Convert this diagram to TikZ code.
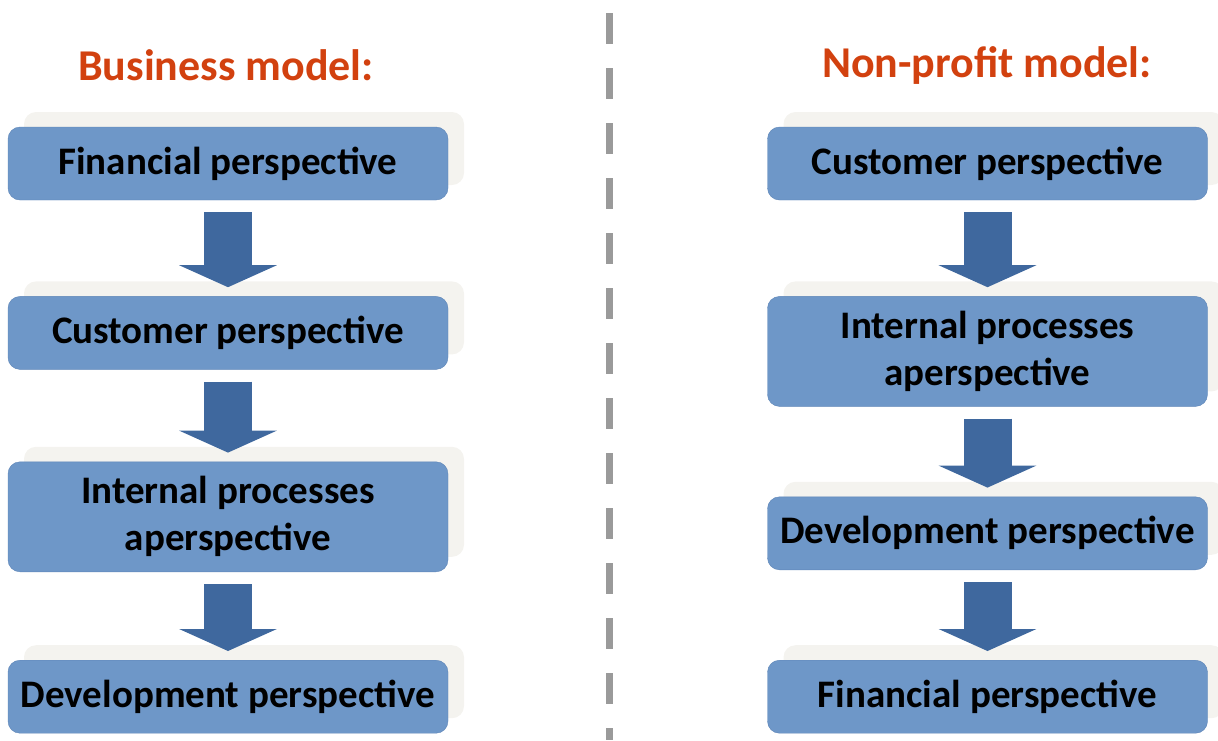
\documentclass[tikz,border=0pt]{standalone}
\usepackage{fontspec}
\setmainfont{Carlito}
\usetikzlibrary{arrows.meta}
\usetikzlibrary{positioning}
\usetikzlibrary{shadows}
\definecolor{boxblue}{HTML}{6E97C8}
\definecolor{boxedge}{HTML}{5D85B7}
\definecolor{arrowblue}{HTML}{3F689E}
\definecolor{titlered}{HTML}{D2410F}
\definecolor{dashgray}{HTML}{9A9A9A}
\definecolor{shadegray}{HTML}{F4F3EF}

\begin{document}
\begin{tikzpicture}[x=1pt,y=-1pt,
	persp/.style={rectangle, rounded corners=12pt, fill=boxblue, draw=boxedge,
		minimum width=440pt, minimum height=73pt, align=center,
		font=\fontsize{39}{47}\selectfont\bfseries,
		general shadow={fill=shadegray, shadow xshift=16pt, shadow yshift=15pt}},
	tall/.style={minimum height=110pt},
	modeltitle/.style={text=titlered, font=\fontsize{44}{52}\selectfont\bfseries},
	bigarrow/.style={draw=arrowblue, line width=48pt,
		-{Triangle[length=22pt,width=97pt]}, shorten <=12pt, shorten >=9pt}]

	\useasboundingbox (0,0) rectangle (1218,740);

	% titles
	\node[modeltitle] (btitle) at (226,65) {Business model:};
	\node[modeltitle] (ntitle) at (987,65) {Non-profit model:};

	% business model column
	\node[persp] (bfin) at (228,163.5) {Financial perspective};
	\node[persp, below = 96pt of bfin] (bcus) {Customer perspective};
	\node[persp, tall, below = 92pt of bcus] (bint) {Internal processes\\aperspective};
	\node[persp, below = 88pt of bint] (bdev) {Development perspective};

	% non-profit column
	\node[persp] (ncus) at (987.5,163.5) {Customer perspective};
	\node[persp, tall, below = 96pt of ncus] (nint) {Internal processes\\aperspective};
	\node[persp, below = 90pt of nint] (ndev) {Development perspective};
	\node[persp, below = 90pt of ndev] (nfin) {Financial perspective};

	% arrows
	\foreach \a/\b in {bfin/bcus, bcus/bint, bint/bdev, ncus/nint, nint/ndev, ndev/nfin}
	\draw[bigarrow] (\a.south) -- (\b.north);

	% divider
	\coordinate (dtop) at (609,13);
	\coordinate (dbot) at (609,740);
	\draw[dashgray, line width=7pt, dash pattern=on 31pt off 24pt] (dtop) -- (dbot);

\end{tikzpicture}
\end{document}
